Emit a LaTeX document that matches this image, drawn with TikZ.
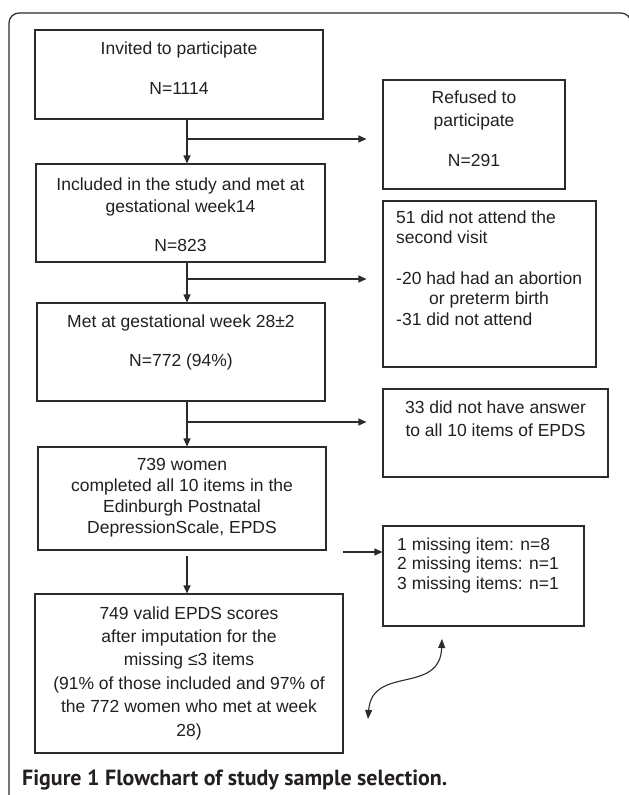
\documentclass[tikz,border=0pt]{standalone}
\usepackage{fontspec}
\usepackage{graphicx}
\setmainfont{Liberation Sans}
\newfontfamily\capfont{PT Sans}
\usetikzlibrary{arrows.meta,calc}
\definecolor{linec}{HTML}{2B2B2B}
\definecolor{txtc}{HTML}{231F20}
\tikzset{
  box/.style={draw=linec, line width=1.1pt, inner sep=0pt, rectangle},
  txt/.style={text=txtc, inner sep=0pt, font=\fontsize{17.5pt}{21pt}\selectfont},
  arr/.style={draw=linec, line width=1.1pt, -{Triangle[length=8pt,width=7pt]}},
  framec/.style={draw=linec, line width=1.2pt}
}
\begin{document}
\begin{tikzpicture}[x=1pt,y=-1pt]
\useasboundingbox (0,0) rectangle (629,795);
\clip (0,0) rectangle (629,795);
% frame
\draw[framec, rounded corners=10pt] (9,820) -- (9,13) -- (631,13) -- (631,820);
% boxes
\node[box, minimum width=288pt, minimum height=89pt] (b1) at (179,74.5) {};
\node[box, minimum width=182pt, minimum height=109pt] (ref) at (474,134.5) {};
\node[box, minimum width=289pt, minimum height=98pt] (b2) at (180.5,213) {};
\node[box, minimum width=213pt, minimum height=166pt] (d51) at (489.5,284) {};
\node[box, minimum width=288pt, minimum height=98pt] (b3) at (181,352) {};
\node[box, minimum width=225pt, minimum height=88pt] (d33) at (495.5,433) {};
\node[box, minimum width=288pt, minimum height=103pt] (b4) at (182,498.5) {};
\node[box, minimum width=201pt, minimum height=100pt] (m1) at (483.5,576) {};
\node[box, minimum width=308pt, minimum height=159pt] (b5) at (189,673.5) {};
% texts (base anchor = baseline of the last line)
\node[txt, anchor=base, align=center] (t1) at (179,94) {Invited to participate\\[19pt]N=1114};
\node[txt, anchor=base, align=center, font=\fontsize{17.5pt}{23pt}\selectfont] (tref) at (474,166) {Refused to\\participate\\[17pt]N=291};
\node[txt, anchor=base, align=center, font=\fontsize{17.5pt}{22pt}\selectfont] (t2) at (180.5,251) {Included in the study and met at\\gestational week14\\[17pt]N=823};
\node[txt, anchor=base west, align=left, font=\fontsize{17.5pt}{20.3pt}\selectfont] (t51) at (396,325) {51 did not attend the\\second visit\\[20.5pt]-20 had had an abortion\\\hspace*{33pt}or preterm birth\\-31 did not attend};
\node[txt, anchor=base, align=center] (t3) at (181,366) {Met at gestational week 28±2\\[18pt]N=772 (94\%)};
\node[txt, anchor=base, align=center, font=\fontsize{17.5pt}{23pt}\selectfont] (t33) at (495.5,436) {33 did not have answer\\to all 10 items of EPDS};
\node[txt, anchor=base, align=center, font=\fontsize{17.5pt}{20.7pt}\selectfont] (t4) at (182,533) {739 women\\completed all 10 items in the\\Edinburgh Postnatal\\DepressionScale, EPDS};
\node[txt, anchor=base west, align=left, font=\fontsize{17.5pt}{19.5pt}\selectfont] (tm1) at (397,589) {1 missing item: n=8\\2 missing items: n=1\\3 missing items: n=1};
\node[txt, anchor=base, align=center, font=\fontsize{17.5pt}{23.4pt}\selectfont] (t5) at (189,736) {749 valid EPDS scores\\after imputation for the\\missing ≤3 items\\(91\% of those included and 97\% of\\the 772 women who met at week\\28)};
% connectors
\coordinate (j1) at (187,139);
\coordinate (j2) at (187,279);
\coordinate (j3) at (187,422);
\coordinate (k) at (343,552);
\draw[arr] (b1.south -| j1) -- (b2.north -| j1);
\draw[arr, shorten >=16pt] (j1) -- (j1 -| ref.west);
\draw[arr] (b2.south -| j2) -- (b3.north -| j2);
\draw[arr, shorten >=16pt] (j2) -- (j2 -| d51.west);
\draw[arr] (b3.south -| j3) -- (b4.north -| j3);
\draw[arr, shorten >=16pt] (j3) -- (j3 -| d33.west);
\draw[arr, shorten <=5pt] (b4.south -| j3) -- (b5.north -| j3);
\draw[arr] (k) -- (k -| m1.west);
% curved double arrow
\coordinate (c1) at (368,719);
\coordinate (c2) at (442,639);
\draw[draw=linec, line width=1.1pt, {Triangle[length=9pt,width=7pt]}-{Triangle[length=9pt,width=7pt]}] (c1) .. controls (372,665) and (440,695) .. (c2);
% caption
\node[anchor=base west, inner sep=0pt, text=txtc] (cap) at (22,785) {\resizebox{425pt}{!}{\capfont\bfseries Figure 1 Flowchart of study sample selection.}};
\end{tikzpicture}
\end{document}
